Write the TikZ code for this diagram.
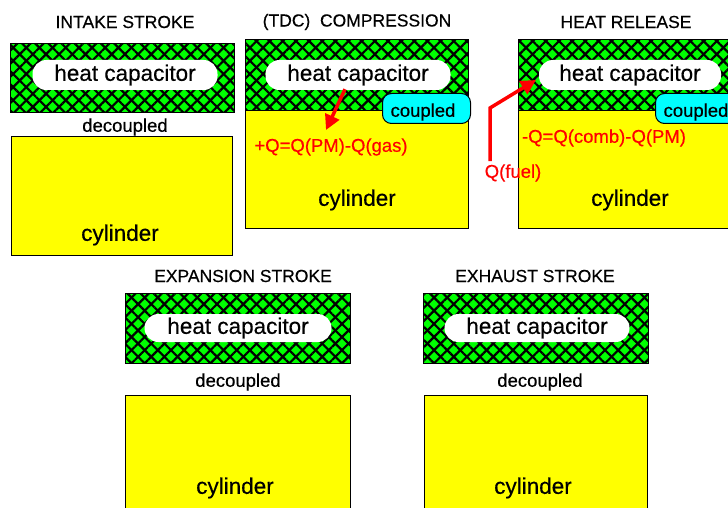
\documentclass[tikz,border=0pt]{standalone}
\usepackage{fontspec}
\setmainfont{Liberation Sans}[FakeBold=0.4]
\usetikzlibrary{patterns.meta,arrows.meta}
\definecolor{hgreen}{RGB}{0,255,0}
\definecolor{cylyel}{RGB}{255,255,0}
\definecolor{cplcyan}{RGB}{0,255,255}
\definecolor{qred}{RGB}{255,0,0}
\begin{document}
\begin{tikzpicture}[x=1pt,y=-1pt,
  hatchbox/.style={draw=black,line width=1.3pt,inner sep=0pt,anchor=north west,
    preaction={fill=hgreen},
    preaction={pattern={Lines[angle=45,distance=9.3pt,line width=2.2pt]},pattern color=black},
    preaction={pattern={Lines[angle=-45,distance=9.3pt,line width=2.2pt]},pattern color=black}},
  cylbox/.style={draw=black,line width=1.3pt,fill=cylyel,inner sep=0pt,anchor=north west},
  capsule/.style={fill=white,rounded corners=14pt,inner sep=0pt,font=\fontsize{22.5}{24}\selectfont},
  cplbox/.style={draw=black,line width=1pt,fill=cplcyan,rounded corners=9pt,inner sep=0pt,anchor=north west},
  title/.style={font=\fontsize{17.5}{19}\selectfont,inner sep=0pt},
  lab/.style={font=\fontsize{18.5}{20}\selectfont,inner sep=0pt},
  cyltext/.style={font=\fontsize{22.5}{24}\selectfont,inner sep=0pt},
  qtext/.style={font=\fontsize{18.5}{20}\selectfont,text=qred,inner sep=0pt},
  redarrow/.style={draw=qred,line width=3.5pt,-{Triangle[length=15pt,width=15pt]}}]
\useasboundingbox (0,0) rectangle (728,508);
\fill[white] (0,0) rectangle (728,508);
\clip (0,0) rectangle (728,508);

% ---------- INTAKE STROKE ----------
\node[title] (t1) at (125,22) {INTAKE STROKE};
\node[hatchbox,minimum width=224pt,minimum height=69pt] (hb1) at (10,43) {};
\node[capsule,minimum width=185pt,minimum height=30pt] (hc1) at (125,75) {heat capacitor};
\node[lab] (d1) at (125,127) {decoupled};
\node[cylbox,minimum width=221pt,minimum height=119pt] (c1) at (11,136) {};
\node[cyltext] (ct1) at (120,235) {cylinder};

% ---------- (TDC) COMPRESSION ----------
\node[title] (t2) at (357,22) {(TDC)\ \ COMPRESSION};
\node[cylbox,minimum width=223pt,minimum height=118pt] (c2) at (245,110) {};
\node[hatchbox,minimum width=223pt,minimum height=71pt] (hb2) at (245,39) {};
\node[capsule,minimum width=185pt,minimum height=30pt] (hc2) at (358,75) {heat capacitor};
\node[cplbox,minimum width=88pt,minimum height=30pt] (cp2) at (382,93) {};
\node[lab] (cpt2) at (423,112) {coupled};
\node[qtext] (q2) at (331,147) {+Q=Q(PM)-Q(gas)};
\node[cyltext] (ct2) at (357,200) {cylinder};
\coordinate (a2) at (326,130);
\draw[redarrow] ([xshift=-13pt,yshift=1pt]hc2.south) -- (a2);

% ---------- HEAT RELEASE ----------
\node[title] (t3) at (626,22) {HEAT RELEASE};
\node[cylbox,minimum width=223pt,minimum height=118pt] (c3) at (518,110) {};
\node[hatchbox,minimum width=223pt,minimum height=71pt] (hb3) at (518,39) {};
\node[capsule,minimum width=182pt,minimum height=30pt] (hc3) at (630,75) {heat capacitor};
\node[cplbox,minimum width=88pt,minimum height=30pt] (cp3) at (655,93) {};
\node[lab] (cpt3) at (696,112) {coupled};
\node[qtext] (q3) at (604,138) {-Q=Q(comb)-Q(PM)};
\node[qtext] (qf) at (513,173) {Q(fuel)};
\node[cyltext] (ct3) at (630,200) {cylinder};
\coordinate (f0) at (490,161);
\coordinate (f1) at (490,108);
\coordinate (f2) at (536,80);
\draw[redarrow] (f0) -- (f1) -- (f2);

% ---------- EXPANSION STROKE ----------
\node[title] (t4) at (243,276) {EXPANSION STROKE};
\node[hatchbox,minimum width=225pt,minimum height=70pt] (hb4) at (125,293) {};
\node[capsule,minimum width=187pt,minimum height=28pt] (hc4) at (238,328) {heat capacitor};
\node[lab] (d4) at (238,382) {decoupled};
\node[cylbox,minimum width=225pt,minimum height=130pt] (c4) at (125,395) {};
\node[cyltext] (ct4) at (235,488) {cylinder};

% ---------- EXHAUST STROKE ----------
\node[title] (t5) at (535,276) {EXHAUST STROKE};
\node[hatchbox,minimum width=225pt,minimum height=70pt] (hb5) at (423,293) {};
\node[capsule,minimum width=185pt,minimum height=28pt] (hc5) at (537,328) {heat capacitor};
\node[lab] (d5) at (540,382) {decoupled};
\node[cylbox,minimum width=223pt,minimum height=130pt] (c5) at (424,395) {};
\node[cyltext] (ct5) at (533,488) {cylinder};
\end{tikzpicture}
\end{document}
